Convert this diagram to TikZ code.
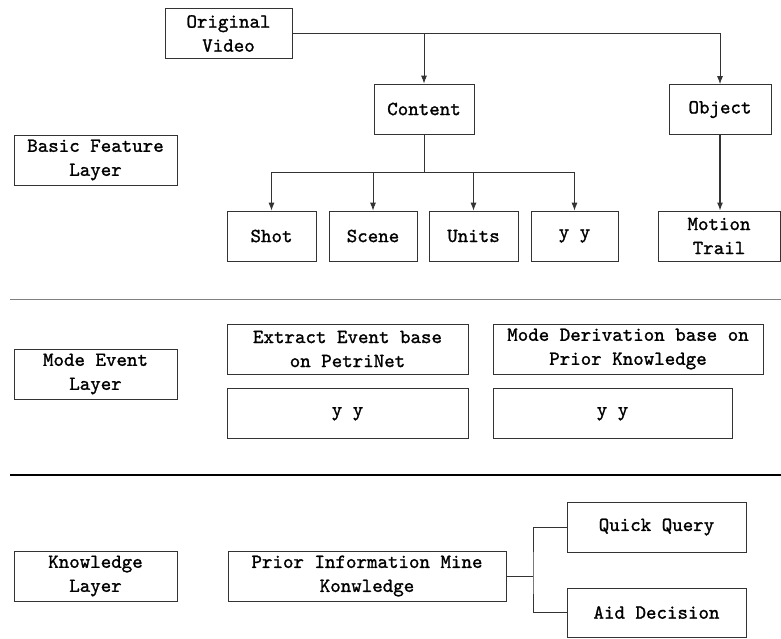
\documentclass[tikz,border=0pt]{standalone}
\usepackage{fontspec}
\newfontfamily\boxfont{lmmono10-regular.otf}[FakeBold=1.2]
\usetikzlibrary{arrows.meta,positioning}

\begin{document}
\begin{tikzpicture}[
x=1pt, y=-1pt,
font=\boxfont\bfseries\fontsize{20}{24}\selectfont,
box/.style={draw=black!80, line width=0.8pt, align=center, inner sep=0pt, minimum height=50pt},
link/.style={draw=black!80, line width=0.8pt},
tip/.style={-{Latex[length=8pt,width=6pt]}},
]
\useasboundingbox (0,0) rectangle (781,638);

\node[box, minimum width=127pt] (orig) at (228.5,33.5) {Original\\Video};
\node[box, minimum width=100pt] (content) at (424,109) {Content};
\node[box, minimum width=102pt] (object) at (720,109.5) {Object};
\node[box, minimum width=163pt] (basic) at (95.5,160) {Basic Feature\\Layer};

\node[box, minimum width=89pt] (shot) at (271.5,236) {Shot};
\node[box, minimum width=88pt] (scene) at (373,236) {Scene};
\node[box, minimum width=89pt] (units) at (473.5,236) {Units};
\node[box, minimum width=87pt] (yy) at (574.5,236) {y y};
\node[box, minimum width=122pt] (motion) at (719,236) {Motion\\Trail};

\node[box, minimum width=163pt] (modeev) at (95.5,374) {Mode Event\\Layer};
\node[box, minimum width=241pt] (extract) at (347.5,349) {Extract Event base\\on PetriNet};
\node[box, minimum width=241pt, below=14pt of extract] (extractyy) {y y};
\node[box, minimum width=270pt] (derive) at (628,349) {Mode Derivation base on\\Prior Knowledge};
\node[box, minimum width=239pt, below=14pt of derive.south west, anchor=north west] (deriveyy) {y y};

\node[box, minimum width=163pt] (know) at (95.5,576) {Knowledge\\Layer};
\node[box, minimum width=278pt] (prior) at (367,576) {Prior Information Mine\\Konwledge};
\node[box, minimum width=179pt] (quick) at (656.5,527) {Quick Query};
\node[box, minimum width=179pt, minimum height=49pt] (aid) at (656.5,612.5) {Aid Decision};

\coordinate (split) at (424,172);
\coordinate (fork) at (533,576);

\draw[link, tip] (orig.east) -| (object.north);
\draw[link, tip] (orig.east -| content.north) -- (content.north);
\draw[link] (content.south) -- (split);
\draw[link] (split -| shot.north) -- (split -| yy.north);
\foreach \n in {shot,scene,units,yy}
  \draw[link, tip] (split -| \n.north) -- (\n.north);
\draw[link, tip, line width=1.2pt] (object.south) -- (object.south |- motion.north);

\draw[link] (prior.east) -- (fork);
\draw[link] (quick.west) -| (fork) |- (aid.west);

\draw[draw=gray, line width=0.8pt] (10,299) -- (781,299);
\draw[draw=black, line width=1.6pt] (10,475) -- (781,475);

\end{tikzpicture}
\end{document}
